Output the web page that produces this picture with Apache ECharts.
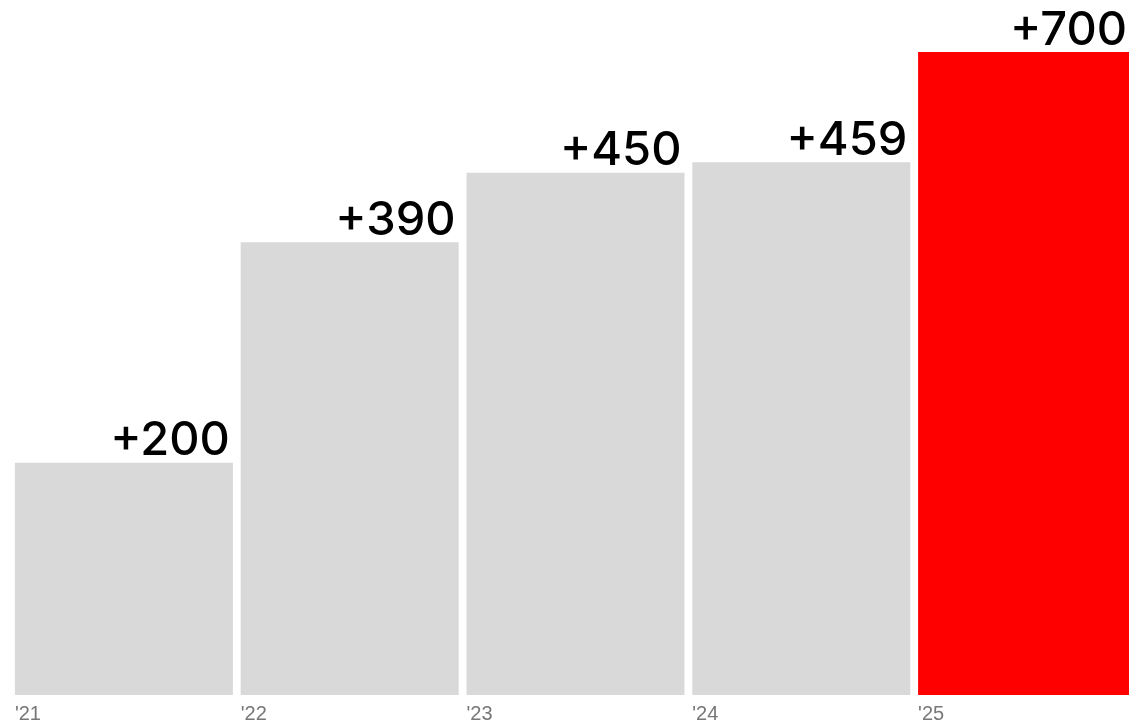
<!DOCTYPE html>
<html>
<head>
<meta charset="utf-8">
<script src="https://cdn.jsdelivr.net/npm/echarts@6/dist/echarts.min.js"></script>
<style>
html,body{margin:0;padding:0;background:#fff;overflow:hidden;}
#chart{width:1140px;height:726px;}
</style>
</head>
<body>
<div id="chart"></div>
<script>
const categories = ["'21", "'22", "'23", "'24", "'25"];
const values = [200, 390, 450, 459, 700];
const highlightIndex = 4;

const chart = echarts.init(document.getElementById('chart'), null, {renderer: 'canvas'});
chart.setOption({
  animation: false,
  grid: {left: 11, right: 0, top: 52, bottom: 31, containLabel: false},
  xAxis: {
    type: 'category',
    data: categories,
    axisLine: {show: false},
    axisTick: {show: false},
    axisLabel: {
      interval: 0,
      margin: 8,
      fontSize: 20,
      color: '#777777',
      fontFamily: 'Liberation Sans',
      formatter: v => '{a|' + v + '}',
      rich: {a: {width: 218, height: 22, align: 'left', color: '#777777', fontSize: 20, fontFamily: 'Liberation Sans'}}
    }
  },
  yAxis: {type: 'value', min: 0, max: 554, show: false, splitLine: {show: false}},
  series: [{
    type: 'bar',
    barCategoryGap: '3.45%',
    data: values.map((v, i) => ({
      value: v,
      itemStyle: {color: i === highlightIndex ? '#ff0000' : '#d9d9d9'},
      label: i === highlightIndex ? {offset: [-9, 2]} : undefined
    })),
    label: {
      show: true,
      position: ['100%', 0],
      align: 'right',
      verticalAlign: 'bottom',
      offset: [-3, 2],
      formatter: p => '+' + p.value,
      color: '#000',
      fontSize: 47,
      fontWeight: 500,
      fontFamily: 'Inter'
    }
  }]
});
</script>
</body>
</html>
